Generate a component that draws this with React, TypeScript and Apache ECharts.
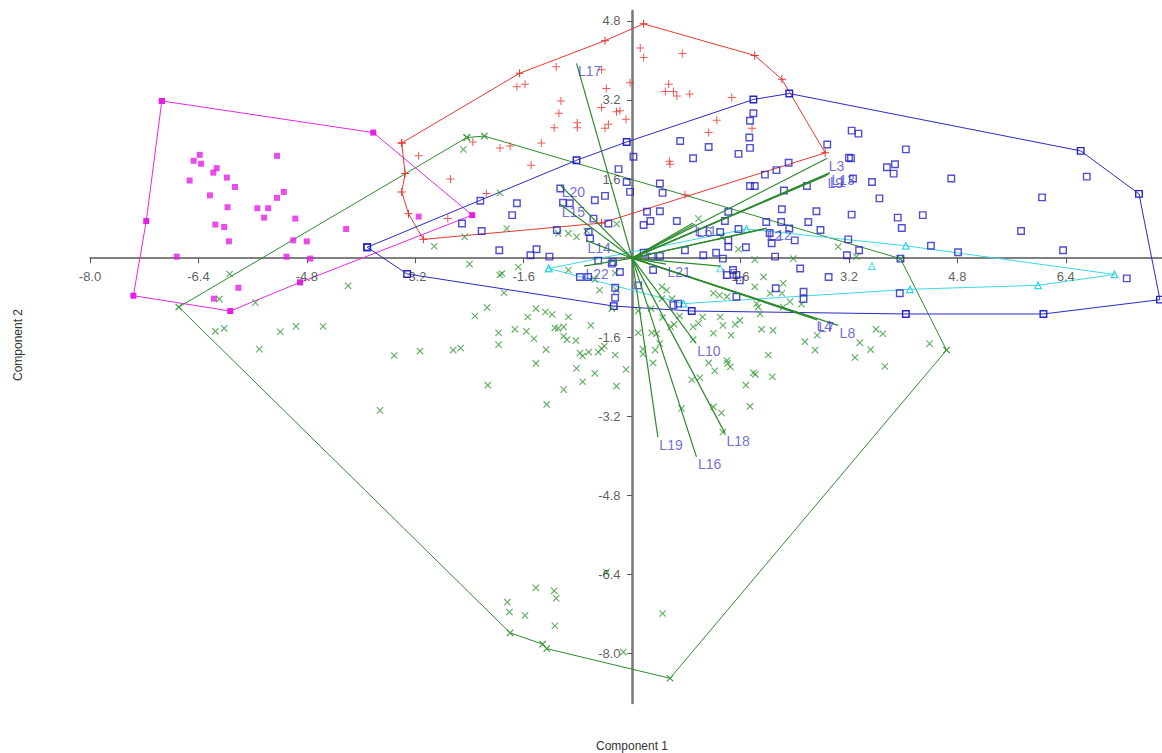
import React, { useEffect, useRef } from "react";
import * as echarts from "echarts";

const X_TICKS = [-8.0, -6.4, -4.8, -3.2, -1.6, 1.6, 3.2, 4.8, 6.4];
const Y_TICKS = [4.8, 3.2, 1.6, -1.6, -3.2, -4.8, -6.4, -8.0];

const MAGENTA_HULL = [[-6.94,3.18],[-3.82,2.54],[-2.36,0.87],[-4.90,-0.49],[-5.93,-1.07],[-7.36,-0.76],[-7.17,0.75]];
const MAGENTA_PTS = [[-6.38,2.09],[-6.47,1.97],[-6.36,1.91],[-6.13,1.82],[-6.18,1.73],[-6.53,1.57],[-5.98,1.63],[-5.86,1.44],[-5.24,2.07],[-6.23,1.27],[-5.97,1.03],[-5.53,1.01],[-5.37,1.01],[-5.14,1.34],[-5.24,1.22],[-5.43,0.82],[-4.97,0.80],[-6.15,0.68],[-6.02,0.63],[-5.95,0.34],[-5.00,0.36],[-4.80,0.34],[-4.22,0.59],[-6.72,0.03],[-5.10,0.03],[-4.75,-0.01],[-5.81,-0.60],[-6.17,-0.82],[-3.15,0.84]];

const RED_HULL = [[-3.40,2.33],[-1.66,3.74],[-0.40,4.40],[0.17,4.74],[1.81,4.10],[2.21,3.62],[2.85,2.13],[-0.45,0.71],[-3.08,0.38],[-3.30,0.90],[-3.40,1.34],[-3.35,1.71]];
const RED_PTS = [[0.12,4.25],[0.17,4.06],[0.74,4.14],[-1.12,3.87],[-0.45,3.81],[-1.70,3.47],[-1.58,3.52],[-0.03,3.55],[-0.38,3.43],[0.54,3.52],[0.49,3.37],[0.61,3.37],[0.66,3.28],[0.85,3.32],[1.47,3.25],[-1.05,3.18],[-0.45,3.05],[-1.08,2.93],[-0.23,2.96],[-0.18,2.98],[-0.35,2.71],[-0.81,2.74],[-0.81,2.64],[-1.15,2.64],[-0.40,2.63],[-0.09,2.81],[1.25,2.79],[1.13,2.54],[1.77,2.63],[-1.34,2.33],[-1.95,2.23],[-1.80,2.27],[-1.49,1.88],[0.55,1.96],[0.56,1.90],[-2.15,1.31],[-3.15,2.07],[-2.68,1.60],[-2.72,0.80],[-2.35,2.35],[0.78,1.28]];

const BLUE_HULL = [[-3.91,0.22],[-0.82,1.98],[-0.08,2.35],[1.79,3.21],[2.32,3.33],[6.62,2.17],[7.48,1.30],[7.79,-0.84],[6.07,-1.13],[4.04,-1.13],[0.88,-1.07],[-0.27,-0.97],[-3.32,-0.32]];
const BLUE_PTS = [[3.24,2.58],[3.34,2.52],[4.04,2.20],[3.23,2.02],[3.76,1.84],[3.88,1.90],[3.86,1.71],[4.71,1.61],[3.26,1.61],[3.54,1.54],[6.71,1.65],[6.05,1.23],[3.65,1.21],[3.24,0.88],[4.29,0.87],[3.92,0.82],[3.98,0.61],[5.74,0.55],[4.41,0.25],[6.36,0.16],[4.81,0.12],[3.35,0.16],[7.30,-0.41],[3.95,-0.71],[3.96,-0.01],
[0.02,2.05],[0.71,2.37],[1.13,2.25],[0.90,2.02],[1.57,2.11],[1.74,2.78],[1.79,2.93],[1.73,2.44],[1.74,2.23],[2.88,2.30],[3.20,2.03],[2.31,1.93],[2.13,1.78],[1.96,1.69],[1.74,1.46],[1.81,1.46],[2.24,1.37],[2.58,1.46],[2.72,0.95],[2.60,0.73],[2.78,0.57],[3.19,0.38],[3.17,0.06],[2.21,0.99],[1.98,0.73],[2.20,0.73],[2.32,0.60],[2.03,0.51],[2.06,0.30],[2.40,0.36],[2.11,0.03],[2.48,-0.21],[2.90,-0.38],[0.41,1.51],[0.45,1.32],[-0.03,1.34],[-0.08,1.54],[-0.20,1.80],[-0.40,1.26],[-0.55,1.17],[-1.06,1.41],[-1.02,1.12],[-0.92,1.11],[-0.57,0.80],[-0.35,0.70],[0.22,0.94],[0.41,0.95],[0.17,0.67],[0.27,0.75],[0.66,0.75],[1.42,0.94],[1.37,0.75],[1.57,0.59],[1.30,0.53],[1.42,0.36],[1.42,0.23],[1.68,0.22],[1.05,0.06],[1.24,0.11],[1.34,-0.01],[0.78,0.16],[-0.64,0.53],[-0.62,0.40],[-1.11,0.57],[-2.22,0.55],[-1.96,0.16],[-1.50,0.06],[-1.41,0.18],[-1.22,0.03],[-0.50,-0.05],[-0.77,-0.38],[-0.30,-0.11],[-0.18,-0.28],[0.17,0.11],[0.29,0.03],[0.41,0.04],[0.31,-0.24],[0.09,-0.55],[-0.25,-0.80],[0.68,-0.92],[1.49,-0.24],[1.54,-0.34],[1.59,-0.45],[1.40,-0.34],[2.12,-0.61],[2.53,-0.68],[1.54,-0.78],[0.61,-0.95],[-2.24,1.16],[-1.70,1.11],[-1.77,0.87],[-2.51,0.70],[2.53,-0.83],[-0.28,-0.08],[-0.65,-0.38],[-0.25,-0.60]];

const GREEN_HULL = [[-2.44,2.44],[-2.18,2.47],[3.96,-0.01],[4.64,-1.86],[0.56,-8.50],[-1.26,-7.90],[-1.32,-7.81],[-1.80,-7.58],[-6.69,-0.99]];
const GREEN_PTS = [[-5.94,-0.32],[-6.09,-0.83],[-5.56,-0.90],[-6.15,-1.48],[-6.02,-1.42],[-5.50,-1.84],[-5.19,-1.49],[-4.96,-1.38],[-4.56,-1.38],[-4.19,-0.56],[-3.72,-3.08],[-3.51,-1.97],[-3.13,-1.88],[-2.64,-1.86],[-2.53,-1.82],[-2.40,-0.12],[-2.32,-1.17],[-2.14,-1.00],[-2.13,-2.57],[-1.97,-1.51],[-1.97,-1.75],[-1.92,-0.31],[-1.89,-0.70],[-1.73,-1.44],[-1.68,-0.18],[-1.56,-1.48],[-1.54,-1.19],[-1.45,-1.63],[-1.42,-1.02],[-1.42,-2.13],[-1.28,-1.09],[-1.27,-1.85],[-1.26,-2.96],[-1.18,-1.14],[-1.14,-1.41],[-1.09,-1.42],[-1.01,-1.39],[-1.01,-1.58],[-1.01,-2.66],[-0.96,-1.65],[-0.94,-1.19],[-0.94,-0.24],[-0.83,-1.67],[-0.82,-2.23],[-0.77,-1.92],[-0.73,-1.98],[-0.73,-2.50],[-0.64,-1.90],[-0.61,-1.36],[-0.55,-2.33],[-0.50,-1.90],[-0.48,-0.65],[-0.45,-1.83],[-0.41,-1.78],[-0.25,-1.96],[-0.23,-2.59],[-0.30,-1.02],[-0.09,-2.25],[0.09,-1.51],[0.16,-1.84],[0.16,-1.94],[-0.25,-0.30],
[0.29,-1.51],[0.36,-1.53],[0.41,-1.73],[0.34,-1.86],[0.31,-2.12],[0.09,-1.07],[0.45,-1.20],[0.57,-1.39],[0.62,-1.34],[0.70,-1.17],[0.90,-1.39],[0.98,-1.32],[1.04,-1.19],[1.20,-1.52],[1.30,-1.19],[1.34,-1.36],[1.52,-1.34],[1.59,-1.26],[1.46,-1.56],[0.90,-1.65],[1.13,-2.12],[1.40,-2.07],[1.41,-2.13],[1.45,-2.20],[1.22,-2.28],[0.88,-2.46],[1.00,-2.42],[1.79,-2.32],[1.82,-2.35],[1.68,-2.57],[2.07,-2.40],[2.01,-1.96],[1.91,-1.44],[2.08,-1.46],[1.89,-1.13],[1.74,-3.00],[1.20,-3.01],[1.32,-3.13],[1.34,-3.52],[0.73,-3.04],[2.55,-1.69],[2.70,-1.86],[2.73,-1.56],[3.29,-2.01],[3.52,-1.85],[3.60,-1.44],[3.70,-1.53],[3.73,-2.19],[3.36,-1.71],[4.39,-1.73],[1.86,-0.99],[2.50,-0.93],[0.28,-1.02],
[-1.95,-0.34],[-0.55,-0.43],[-0.23,-0.65],[0.44,-0.58],[0.51,-0.65],[0.59,-0.82],[0.44,-0.82],[1.20,-0.71],[1.29,-0.75],[1.40,-0.78],[1.81,-0.58],[1.84,-0.92],[1.94,-0.38],[2.04,-0.71],[2.21,-0.71],[2.23,-0.51],[2.33,-0.88],[2.23,-0.99],[1.57,0.18],[1.81,-0.03],[2.38,-0.01],[0.98,0.80],[3.04,0.23],[3.31,0.03],[1.32,0.43],[-0.23,0.69],[-1.85,0.60],[-1.09,0.50],[-0.94,0.50],[-0.82,0.43],[-1.95,1.32],[-0.67,0.55],
[-2.49,2.20],[-2.92,0.24],[-2.47,0.43],
[-1.42,-6.67],[-1.84,-6.96],[-1.81,-7.16],[-1.58,-7.23],[-1.15,-6.73],[-1.12,-6.88],[-1.14,-7.44],[0.45,-7.19],[-0.38,-6.35],[-0.13,-7.97]];

const CYAN_HULL = [[-1.23,-0.21],[1.69,0.59],[4.04,0.25],[7.12,-0.33],[5.99,-0.55],[4.10,-0.63],[0.76,-0.92]];
const CYAN_PTS = [[3.54,-0.16],[1.30,-0.21]];

const VECTOR_NAMES = ["L1","L2","L3","L4","L5","L6","L7","L8","L9","L10","L11","L12","L13","L14","L15","L16","L17","L18","L19","L20","L21","L22"];
const VECTOR_X = [2.90,1.96,2.88,2.70,1.30,0.93,2.73,3.04,2.86,0.94,0.90,1.99,2.92,-0.68,-1.06,0.95,-0.82,1.37,0.38,-1.06,0.50,-0.71];
const VECTOR_Y = [1.70,0.59,2.02,-1.22,-0.16,0.69,-1.25,-1.36,1.67,-1.72,0.71,0.61,1.73,0.36,1.09,-4.02,3.94,-3.54,-3.62,1.48,-0.12,-0.16];

const FONT = "'Liberation Sans', Arial, sans-serif";
const PLUS = "path://M0,3.5H8V4.5H0Z M3.5,0H4.5V8H3.5Z";

const close = (h: number[][]) => [...h, h[0]];

export default function App() {
  const ref = useRef<HTMLDivElement>(null);
  useEffect(() => {
    document.body.style.margin = "0";
    document.body.style.overflow = "hidden";
    const chart = echarts.init(ref.current!, null, { renderer: "svg" });

    const group = (name: string, hull: number[][], pts: number[][], color: string, symbol: string, size: number, itemStyle: any, rotate = 0) => [
      {
        type: "line", name: name + "hull", data: close(hull), showSymbol: true, symbol, symbolSize: size, symbolRotate: rotate,
        lineStyle: { color, width: 1 }, itemStyle, z: 2, silent: true,
      },
      {
        type: "scatter", name, data: pts, symbol, symbolSize: size, symbolRotate: rotate, itemStyle, z: 3, silent: true,
      },
    ];

    const vectorSeries: any[] = VECTOR_NAMES.map((n, i) => ({
      type: "line", name: n, data: [[0, 0], [VECTOR_X[i], VECTOR_Y[i]]], showSymbol: false, symbol: "none",
      lineStyle: { color: "#2d8a2d", width: 1.2 }, z: 4, silent: true,
    }));
    const labelSeries = {
      type: "scatter", name: "labels", symbolSize: 1, z: 6, silent: true,
      itemStyle: { color: "rgba(0,0,0,0)" },
      data: VECTOR_NAMES.map((n, i) => ({ value: [VECTOR_X[i], VECTOR_Y[i]], name: n })),
      label: { show: true, formatter: (p: any) => p.name, position: [2, 1], color: "rgba(46,46,204,0.88)", fontSize: 14, fontFamily: FONT },
    };
    const tickLabelStyle = { show: true, color: "#333", fontSize: 13, fontFamily: FONT, formatter: (p: any) => Number(p.name).toFixed(1) };
    const xTickLabels = {
      type: "scatter", name: "xticks", symbolSize: 1, z: 7, silent: true, itemStyle: { color: "rgba(0,0,0,0)" },
      data: X_TICKS.map((v) => ({ value: [v, 0], name: String(v) })),
      label: { ...tickLabelStyle, position: "bottom", distance: 11 },
    };
    const yTickLabels = {
      type: "scatter", name: "yticks", symbolSize: 1, z: 7, silent: true, itemStyle: { color: "rgba(0,0,0,0)" },
      data: Y_TICKS.map((v) => ({ value: [0, v], name: String(v) })),
      label: { ...tickLabelStyle, position: "left", distance: 11 },
    };

    chart.setOption({
      animation: false,
      grid: { left: 90, right: 0, top: 11, bottom: 50 },
      xAxis: {
        type: "value", min: -8, max: 7.82,
        axisLine: { onZero: true, lineStyle: { color: "#555", width: 1.5 } },
        axisTick: { show: true, customValues: X_TICKS, length: 5, lineStyle: { color: "#555" } },
        axisLabel: { show: false },
        splitLine: { show: false },
      },
      yAxis: {
        type: "value", min: -9, max: 5,
        axisLine: { onZero: true, lineStyle: { color: "#777", width: 2.5 } },
        axisTick: { show: true, customValues: Y_TICKS, length: 5, lineStyle: { color: "#555" } },
        axisLabel: { show: false },
        splitLine: { show: false },
      },
      graphic: [
        { type: "text", x: 632, y: 746, style: { text: "Component 1", fill: "#333", font: "12px " + FONT, textAlign: "center", textVerticalAlign: "middle" } },
        { type: "text", x: 18, y: 345, rotation: Math.PI / 2, style: { text: "Component 2", fill: "#333", font: "12px " + FONT, textAlign: "center", textVerticalAlign: "middle" } },
      ],
      series: [
        ...group("magenta", MAGENTA_HULL, MAGENTA_PTS, "#e628e6", "rect", 6, { color: "#e61ee6" }),
        ...group("red", RED_HULL, RED_PTS, "#e33a32", PLUS, 8, { color: "#e8302c" }),
        ...group("green", GREEN_HULL, GREEN_PTS, "#2e8b2e", PLUS, 9, { color: "#3a9a3a" }, 45),
        ...group("blue", BLUE_HULL, BLUE_PTS, "#2a2ac4", "rect", 6.5, { color: "rgba(255,255,255,0)", borderColor: "#2424c8", borderWidth: 1.4 }),
        ...group("cyan", CYAN_HULL, CYAN_PTS, "#3cd8e6", "triangle", 6.5, { color: "rgba(255,255,255,0)", borderColor: "#33d4e4", borderWidth: 1.2 }),
        ...vectorSeries,
        labelSeries,
        xTickLabels,
        yTickLabels,
      ],
    });
    return () => chart.dispose();
  }, []);
  return <div ref={ref} style={{ width: 1162, height: 753 }} />;
}
